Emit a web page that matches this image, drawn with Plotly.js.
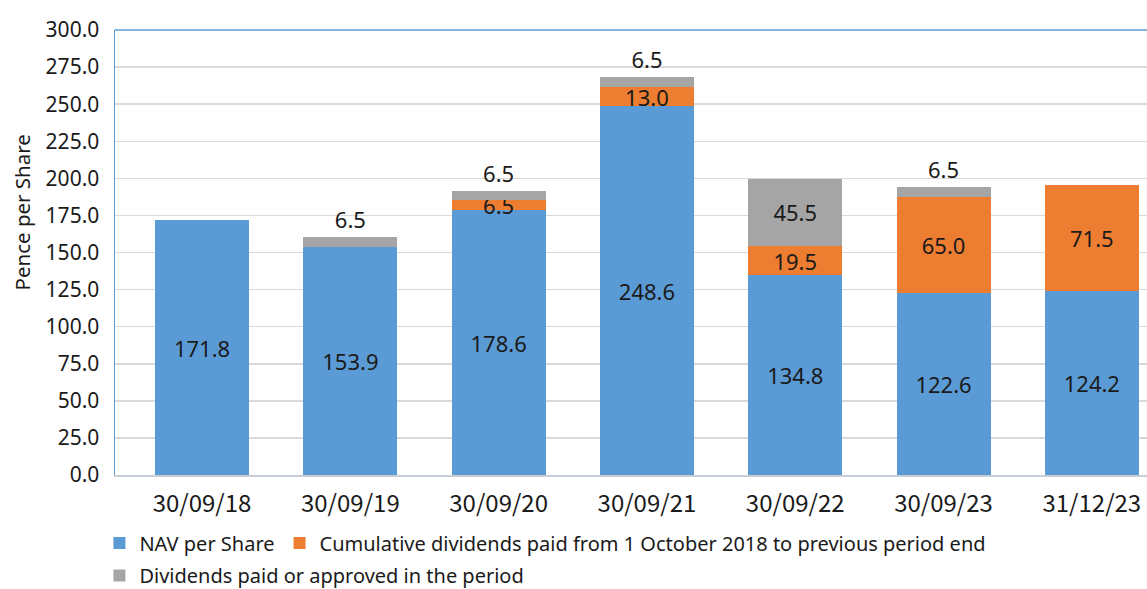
<!DOCTYPE html>
<html>
<head>
<meta charset="utf-8">
<script src="https://cdn.plot.ly/plotly-3.0.1.min.js"></script>
<style>html,body{margin:0;padding:0;background:#fff;}#chart{width:1147px;height:589px;}</style>
</head>
<body>
<div id="chart"></div>
<script>
var categories = ['30/09/18', '30/09/19', '30/09/20', '30/09/21', '30/09/22', '30/09/23', '31/12/23'];
var navPerShare = [171.8, 153.9, 178.6, 248.6, 134.8, 122.6, 124.2];
var cumulativeDividends = [null, null, 6.5, 13.0, 19.5, 65.0, 71.5];
var periodDividends = [null, 6.5, 6.5, 6.5, 45.5, 6.5, null];
var yTickValues = [0, 25, 50, 75, 100, 125, 150, 175, 200, 225, 250, 275, 300];

var FONT = 'Noto Sans, sans-serif';
var CJK = 'Noto Sans CJK JP, Noto Sans, sans-serif';
var TXT = '#1a1a1a';
function labels(arr) { return arr.map(function (v) { return v == null ? '' : v.toFixed(1); }); }
var xIdx = categories.map(function (c, i) { return i; });

var traces = [
  {
    type: 'bar', name: 'NAV per Share', x: xIdx, y: navPerShare, legend: 'legend',
    marker: {color: '#5B9BD5'},
    text: labels(navPerShare), textposition: 'inside', insidetextanchor: 'middle',
    textangle: 0, constraintext: 'none',
    insidetextfont: {family: FONT, size: 22, color: TXT},
    hoverinfo: 'skip'
  },
  {
    type: 'bar', name: 'Cumulative dividends paid from 1 October 2018 to previous period end',
    x: xIdx, y: cumulativeDividends, legend: 'legend',
    marker: {color: '#ED7D31'},
    text: labels(cumulativeDividends), textposition: 'inside', insidetextanchor: 'middle',
    textangle: 0, constraintext: 'none',
    insidetextfont: {family: FONT, size: 22, color: TXT},
    hoverinfo: 'skip'
  },
  {
    type: 'bar', name: 'Dividends paid or approved in the period',
    x: xIdx, y: periodDividends, legend: 'legend2',
    marker: {color: '#A5A5A5'},
    text: labels(periodDividends),
    textposition: periodDividends.map(function (v) { return v != null && v > 20 ? 'inside' : 'outside'; }),
    insidetextanchor: 'middle', textangle: 0, constraintext: 'none', cliponaxis: false,
    insidetextfont: {family: FONT, size: 22, color: TXT},
    outsidetextfont: {family: FONT, size: 22, color: TXT},
    hoverinfo: 'skip'
  }
];

var legendFont = {family: FONT, size: 20, color: TXT};
var layout = {
  width: 1147, height: 589,
  margin: {l: 115, r: 0, t: 30, b: 114, pad: 0, autoexpand: false},
  paper_bgcolor: '#ffffff', plot_bgcolor: '#ffffff',
  barmode: 'stack', bargap: 0.366,
  font: {family: FONT, color: TXT},
  showlegend: true,
  legend: {
    orientation: 'h', x: -0.0151, xanchor: 'left', y: -0.153, yanchor: 'middle',
    font: legendFont, traceorder: 'normal', bgcolor: 'rgba(0,0,0,0)'
  },
  legend2: {
    orientation: 'h', x: -0.0151, xanchor: 'left', y: -0.226, yanchor: 'middle',
    font: legendFont, bgcolor: 'rgba(0,0,0,0)'
  },
  xaxis: {
    type: 'linear', range: [-0.587, 6.372],
    tickmode: 'array', tickvals: xIdx, ticktext: categories,
    tickfont: {family: CJK, size: 24, color: TXT},
    ticks: 'outside', ticklen: 7, tickcolor: 'rgba(0,0,0,0)',
    showgrid: false, zeroline: false,
    showline: true, linecolor: '#C8CED6', linewidth: 1.5
  },
  yaxis: {
    range: [0, 300], tickmode: 'array', tickvals: yTickValues,
    tickformat: '.1f',
    tickfont: {family: FONT, size: 21, color: TXT},
    ticks: 'outside', ticklen: 10, tickcolor: 'rgba(0,0,0,0)',
    showgrid: true, gridcolor: '#D9D9D9', gridwidth: 1.5,
    zeroline: false,
    showline: true, linecolor: '#5B9BD5', linewidth: 1.5
  },
  shapes: [
    {type: 'line', xref: 'paper', yref: 'paper', x0: 0, x1: 1, y0: 1, y1: 1,
     line: {color: '#5B9BD5', width: 1.5}}
  ],
  annotations: [
    {text: 'Pence per Share', xref: 'paper', yref: 'paper',
     x: -0.0901, y: 0.59, xanchor: 'center', yanchor: 'middle',
     textangle: -90, showarrow: false, font: {family: FONT, size: 20.5, color: TXT}}
  ]
};

Plotly.newPlot('chart', traces, layout, {displayModeBar: false, staticPlot: true});
</script>
</body>
</html>
